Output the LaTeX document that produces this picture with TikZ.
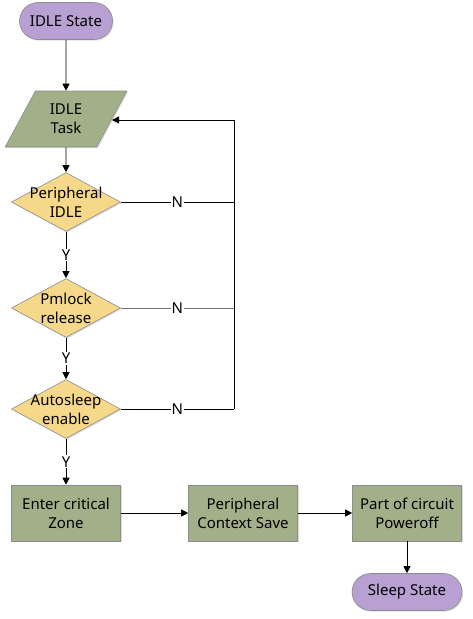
\documentclass[tikz,border=0pt]{standalone}
\usepackage{fontspec}
\setmainfont{Noto Sans}
\usetikzlibrary{shapes.geometric,shapes.misc,arrows.meta,shadows}
\definecolor{termpurple}{HTML}{B9A0D2}
\definecolor{procgreen}{HTML}{A2B08A}
\definecolor{decyellow}{HTML}{F5D889}
\definecolor{edgegray}{HTML}{8C8C8C}
\tikzset{
  txt/.style={font=\fontsize{15}{19}\selectfont, align=center},
  base/.style={draw=edgegray, line width=0.6pt, txt, inner sep=0pt,
    drop shadow={shadow xshift=1.2pt, shadow yshift=-1.2pt, fill=black!25}},
  term/.style={base, fill=termpurple, rounded rectangle, minimum width=93pt, minimum height=37pt},
  proc/.style={base, fill=procgreen, rectangle, minimum width=109pt, minimum height=56pt},
  dec/.style={base, fill=decyellow, diamond, minimum width=109pt, minimum height=59pt, aspect=1.85,
    label={[txt]center:#1}},
  para/.style={base, fill=procgreen, trapezium, trapezium left angle=62, trapezium right angle=118,
    minimum width=122pt, minimum height=56pt, trapezium stretches=true},
  conn/.style={line width=0.8pt, -{Triangle[length=7pt,width=7pt]}},
  lbl/.style={fill=white, inner sep=1pt, font=\fontsize{15}{17}\selectfont}
}
\begin{document}
\begin{tikzpicture}[x=1pt,y=-1pt]
\useasboundingbox (0,0) rectangle (472,619);
\node[term] (start) at (66,21) {IDLE State};
\node[para] (task) at (66,119) {IDLE\\Task};
\node[dec={Peripheral\\IDLE}] (d1) at (66,202) {};
\node[dec={Pmlock\\release}] (d2) at (66,308) {};
\node[dec={Autosleep\\enable}] (d3) at (66,409) {};
\node[proc] (p1) at (66,513) {Enter critical\\Zone};
\node[proc] (p2) at (243,513) {Peripheral\\Context Save};
\node[proc] (p3) at (407,513) {Part of circuit\\Poweroff};
\node[term, minimum width=110pt] (stop) at (407,592) {Sleep State};
\coordinate (rtop) at (234,120);
\coordinate (r1) at (234,202);
\coordinate (r2) at (234,308);
\coordinate (r3) at (234,409);
\coordinate (tin) at (112,120);

\draw[conn] (start) -- (task);
\draw[conn] (task) -- (d1);
\draw[conn] (d1) -- node[lbl]{Y} (d2);
\draw[conn] (d2) -- node[lbl]{Y} (d3);
\draw[conn] (d3) -- node[lbl, pos=0.5]{Y} (p1);
\draw[line width=0.8pt] (d1.east) -- node[lbl]{N} (r1);
\draw[line width=0.8pt, black!55] (d2.east) -- node[lbl, text=black]{N} (r2);
\draw[line width=0.8pt] (d3.east) -- node[lbl]{N} (r3);
\draw[conn] (r3) -- (rtop) -- (tin);
\draw[conn] (p1) -- (p2);
\draw[conn] (p2) -- (p3);
\draw[conn] (p3) -- (stop);
\end{tikzpicture}
\end{document}
